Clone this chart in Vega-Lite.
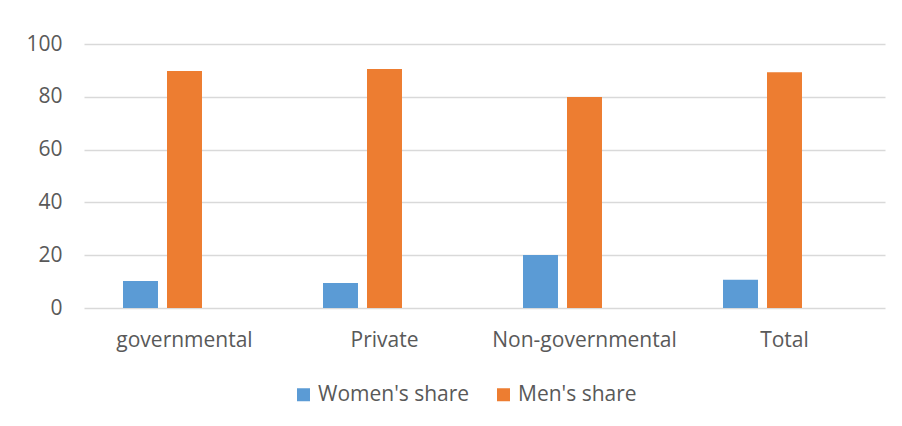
{
  "$schema": "https://vega.github.io/schema/vega-lite/v6.json",
  "width": 801,
  "height": 264,
  "autosize": {"type": "none"},
  "padding": {"left": 84, "top": 44, "right": 17, "bottom": 118},
  "background": "white",
  "data": {
    "values": [
      {"sector": "governmental", "series": "Women's share", "value": 10.2},
      {"sector": "governmental", "series": "Men's share", "value": 89.8},
      {"sector": "Private", "series": "Women's share", "value": 9.5},
      {"sector": "Private", "series": "Men's share", "value": 90.5},
      {"sector": "Non-governmental", "series": "Women's share", "value": 20.1},
      {"sector": "Non-governmental", "series": "Men's share", "value": 79.9},
      {"sector": "Total", "series": "Women's share", "value": 10.7},
      {"sector": "Total", "series": "Men's share", "value": 89.3}
    ]
  },
  "mark": {"type": "bar"},
  "encoding": {
    "x": {
      "field": "sector",
      "type": "nominal",
      "sort": ["governmental", "Private", "Non-governmental", "Total"],
      "scale": {"paddingInner": 0.385, "paddingOuter": 0.195},
      "axis": {
        "title": null,
        "labelAngle": 0,
        "labelFont": "Open Sans",
        "labelFontSize": 21,
        "labelColor": "#595959",
        "labelPadding": 21,
        "labelLimit": 400,
        "ticks": false,
        "domain": false,
        "grid": false
      }
    },
    "xOffset": {
      "field": "series",
      "type": "nominal",
      "scale": {"domain": ["Women's share", "Men's share", "blank"], "paddingInner": 0.205, "paddingOuter": 0}
    },
    "y": {
      "field": "value",
      "type": "quantitative",
      "scale": {"domain": [0, 100]},
      "axis": {
        "title": null,
        "values": [0, 20, 40, 60, 80, 100],
        "labelFont": "Open Sans",
        "labelFontSize": 21,
        "labelColor": "#595959",
        "labelPadding": 22,
        "ticks": false,
        "domain": false,
        "grid": true,
        "gridColor": "#D9D9D9",
        "gridWidth": 1.5
      }
    },
    "color": {
      "field": "series",
      "type": "nominal",
      "scale": {"domain": ["Women's share", "Men's share"], "range": ["#5B9BD5", "#ED7D31"]},
      "legend": {
        "title": null,
        "orient": "none",
        "direction": "horizontal",
        "legendX": 209,
        "legendY": 340,
        "symbolType": "square",
        "symbolSize": 169,
        "symbolStrokeWidth": 0,
        "labelFont": "Open Sans",
        "labelFontSize": 21,
        "labelColor": "#595959",
        "labelOffset": 4,
        "columnPadding": 23
      }
    }
  },
  "config": {"view": {"stroke": null}}
}
